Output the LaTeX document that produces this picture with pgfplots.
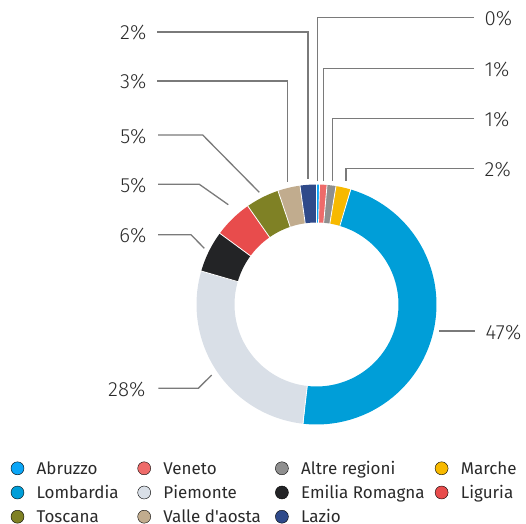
\documentclass[border=0pt]{standalone}
\usepackage{fontspec}
\setmainfont{Fira Sans}[Ligatures=TeXOff]
\newfontfamily\lightfont{Fira Sans Light}[Ligatures=TeXOff]
\usepackage{pgfplots}
\usepackage{pgfplotstable}
\pgfplotsset{compat=1.18}

\definecolor{cAbr}{HTML}{0BA6F7}
\definecolor{cVen}{HTML}{EE6B6A}
\definecolor{cAlt}{HTML}{8F8F8F}
\definecolor{cMar}{HTML}{F7B900}
\definecolor{cLom}{HTML}{009ED8}
\definecolor{cPie}{HTML}{D9DFE7}
\definecolor{cEmi}{HTML}{232426}
\definecolor{cLig}{HTML}{E84C4C}
\definecolor{cTos}{HTML}{7F8125}
\definecolor{cVal}{HTML}{C1AC8E}
\definecolor{cLaz}{HTML}{2F4A8A}
\definecolor{txt}{HTML}{2A2A2A}
\definecolor{lead}{HTML}{7A7A7A}

% share of each region, clockwise from the top
\pgfplotstableread{
region value col
Abruzzo 0.4 cAbr
Veneto 1.0 cVen
Altre 1.2 cAlt
Marche 2.0 cMar
Lombardia 47.2 cLom
Piemonte 27.7 cPie
Emilia 5.6 cEmi
Liguria 5.2 cLig
Toscana 4.5 cTos
Valle 3.0 cVal
Lazio 2.2 cLaz
}\shares

\newcommand{\cx}{316.5}
\newcommand{\cy}{304.5}
\newcommand{\pct}{\lightfont\fontsize{20.5bp}{24bp}\selectfont}
\newcommand{\legfont}{\fontsize{17bp}{20bp}\selectfont}

\begin{document}
\begin{tikzpicture}
\begin{axis}[
    name=ax,
    x=1bp, y=1bp,
    xmin=0, xmax=526, ymin=0, ymax=524,
    y dir=reverse,
    hide axis,
    clip=false,
    legend columns=4,
    legend cell align=left,
    legend image code/.code={\fill (6.5bp,0bp) circle (6.5bp);},
    legend style={
        draw=none, fill=none,
        at={(axis cs:10.8,458.3)}, anchor=north west,
        inner sep=0pt, outer sep=0pt,
        font=\legfont, text=txt,
        nodes={inner sep=0pt, text height=16bp, text depth=4bp},
        /tikz/every odd column/.style={column sep=12.5bp},
        /tikz/every even column/.style={column sep=0pt},
        /tikz/row sep=4.2bp,
    },
]
% ring slices
\pgfplotstablegetrowsof{\shares}
\pgfmathtruncatemacro\nrows{\pgfplotsretval-1}
\def\cum{0}
\pgfplotsforeachungrouped \i in {0,...,\nrows}{
    \pgfplotstablegetelem{\i}{value}\of\shares \let\v\pgfplotsretval
    \pgfplotstablegetelem{\i}{col}\of\shares \let\c\pgfplotsretval
    \pgfmathsetmacro\nxt{\cum+\v}
    \edef\temp{\noexpand\addplot[draw=\c, line width=38bp, domain=\cum:\nxt,
        samples=60, variable=\noexpand\t, forget plot]
        ({\cx+101*sin(3.6*\noexpand\t)}, {\cy-101*cos(3.6*\noexpand\t)});}
    \temp
    \global\let\cum\nxt
}
% thin white gaps between slices
\def\cum{0}
\pgfplotsforeachungrouped \i in {0,...,\nrows}{
    \pgfplotstablegetelem{\i}{value}\of\shares \let\v\pgfplotsretval
    \pgfmathsetmacro\nxt{\cum+\v}
    \edef\temp{\noexpand\addplot[white, line width=0.8bp, domain=80:122,
        samples=2, variable=\noexpand\r, forget plot]
        ({\cx+\noexpand\r*sin(3.6*\nxt)}, {\cy-\noexpand\r*cos(3.6*\nxt)});}
    \temp
    \global\let\cum\nxt
}

% leader lines
\pgfplotsset{every axis plot/.append style={forget plot}}
\addplot[lead, line width=1.3bp] coordinates {(474,17.3) (317.3,17.3) (317.3,181)};
\addplot[lead, line width=1.3bp] coordinates {(474,68.3) (323.3,68.3) (323.3,181)};
\addplot[lead, line width=1.3bp] coordinates {(474,118.3) (332.7,118.3) (332.7,181)};
\addplot[lead, line width=1.3bp] coordinates {(474,168.3) (346,168.3) (346,181)};
\addplot[lead, line width=1.3bp] coordinates {(439.3,331) (475,331)};
\addplot[lead, line width=1.3bp] coordinates {(157.3,32) (308,32) (308,179)};
\addplot[lead, line width=1.3bp] coordinates {(157.3,81) (287.5,81) (287.5,182)};
\addplot[lead, line width=1.3bp] coordinates {(158,135) (202.7,135) (259.3,192.3)};
\addplot[lead, line width=1.3bp] coordinates {(158,184.3) (199.3,184.3) (228.3,204.7)};
\addplot[lead, line width=1.3bp] coordinates {(158,234.7) (191,234.7) (204.3,248.3)};
\addplot[lead, line width=1.3bp] coordinates {(158.3,388.3) (198.3,388.3) (211.7,375)};

% percentage labels
\begin{scope}[every node/.style={inner sep=0pt, text=txt, font=\pct}]
\node[anchor=base west] at (axis cs:484.5,25.3) {0\%};
\node[anchor=base west] at (axis cs:484.5,76.3) {1\%};
\node[anchor=base west] at (axis cs:484.5,126.3) {1\%};
\node[anchor=base west] at (axis cs:484.5,176.3) {2\%};
\node[anchor=base west] at (axis cs:485.5,339.5) {47\%};
\node[anchor=base east] at (axis cs:146.5,40) {2\%};
\node[anchor=base east] at (axis cs:146.5,89) {3\%};
\node[anchor=base east] at (axis cs:146.5,143.5) {5\%};
\node[anchor=base east] at (axis cs:146.5,192.3) {5\%};
\node[anchor=base east] at (axis cs:146.5,242.7) {6\%};
\node[anchor=base east] at (axis cs:145.5,396.3) {28\%};
\end{scope}

% legend
\addlegendimage{fill=cAbr}\addlegendentry{\makebox[100.8bp][l]{Abruzzo}}
\addlegendimage{fill=cVen}\addlegendentry{\makebox[111.8bp][l]{Veneto}}
\addlegendimage{fill=cAlt}\addlegendentry{\makebox[133.8bp][l]{Altre regioni}}
\addlegendimage{fill=cMar}\addlegendentry{Marche}
\addlegendimage{fill=cLom}\addlegendentry{\makebox[100.8bp][l]{Lombardia}}
\addlegendimage{fill=cPie}\addlegendentry{\makebox[111.8bp][l]{Piemonte}}
\addlegendimage{fill=cEmi}\addlegendentry{\makebox[133.8bp][l]{Emilia Romagna}}
\addlegendimage{fill=cLig}\addlegendentry{Liguria}
\addlegendimage{fill=cTos}\addlegendentry{\makebox[100.8bp][l]{Toscana}}
\addlegendimage{fill=cVal}\addlegendentry{\makebox[111.8bp][l]{Valle d'aosta}}
\addlegendimage{fill=cLaz}\addlegendentry{Lazio}
\end{axis}
\pgfresetboundingbox
\path (ax.south west) rectangle (ax.north east);
\end{tikzpicture}
\end{document}
